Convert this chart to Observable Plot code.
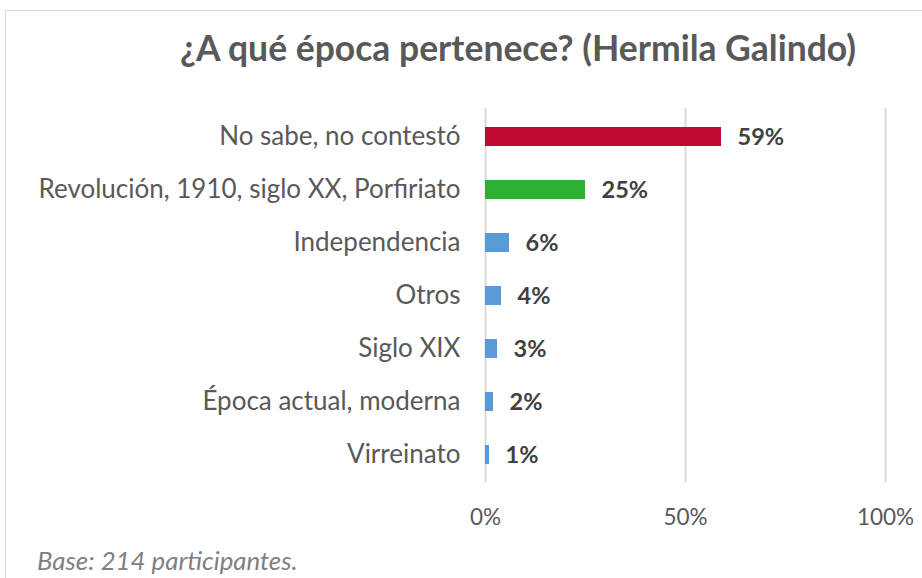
<!DOCTYPE html>
<html><head><meta charset="utf-8">
<script src="https://cdn.jsdelivr.net/npm/d3@7"></script>
<script src="https://cdn.jsdelivr.net/npm/@observablehq/plot@0.6"></script>
<style>
html,body{margin:0;padding:0;background:#fff;}
#wrap{position:relative;width:922px;height:578px;overflow:hidden;font-family:Lato,"Open Sans",sans-serif;}
#frame{position:absolute;left:5px;top:10px;width:940px;height:600px;border:1.5px solid #d9d9d9;box-sizing:border-box;}
#title{position:absolute;left:0;top:27px;width:1036px;text-align:center;font-weight:bold;font-size:35.5px;line-height:1.2;color:#595959;}
#caption{position:absolute;left:37px;top:545px;font-style:italic;font-size:25.8px;line-height:1.2;color:#7f7f7f;}
#chart{position:absolute;left:0;top:0;}
</style></head>
<body><div id="wrap"><div id="frame"></div><div id="chart"></div>
<div id="title">¿A qué época pertenece? (Hermila Galindo)</div>
<div id="caption">Base: 214 participantes.</div></div>
<script>
const categories = ["No sabe, no contestó","Revolución, 1910, siglo XX, Porfiriato","Independencia","Otros","Siglo XIX","Época actual, moderna","Virreinato"];
const values = [59,25,6,4,3,2,1];
const colors = ["#C00A32","#2EB035","#5B9BD5","#5B9BD5","#5B9BD5","#5B9BD5","#5B9BD5"];
const xTicks = [0,50,100];

const data = categories.map((c,i)=>({cat:c, v:values[i], color:colors[i]}));

const chart = Plot.plot({
  width: 922, height: 578,
  marginLeft: 485, marginRight: 37, marginTop: 108, marginBottom: 96,
  style: {fontFamily: "Lato, 'Open Sans', sans-serif", background: "transparent"},
  x: {domain: [0,100], ticks: xTicks, tickFormat: d => d + "%", label: null},
  y: {domain: categories, paddingInner: 0.645, paddingOuter: 0.318, label: null},
  marks: [
    Plot.gridX(xTicks, {stroke: "#d9d9d9", strokeOpacity: 1, strokeWidth: 2}),
    Plot.barX(data, {x: "v", y: "cat", fill: "color"}),
    Plot.text(data, {x: "v", y: "cat", text: d => d.v + "%", textAnchor: "start", dx: 16, fontWeight: "bold", fontSize: 23.5, fill: "#404040"}),
    Plot.axisX({ticks: xTicks, tickFormat: d => d + "%", tickSize: 0, tickPadding: 27, fontSize: 22.5, color: "#595959", label: null}),
    Plot.axisY({tickSize: 0, tickPadding: 25, fontSize: 26, color: "#595959", label: null})
  ]
});
document.getElementById("chart").appendChild(chart);
</script></body></html>
